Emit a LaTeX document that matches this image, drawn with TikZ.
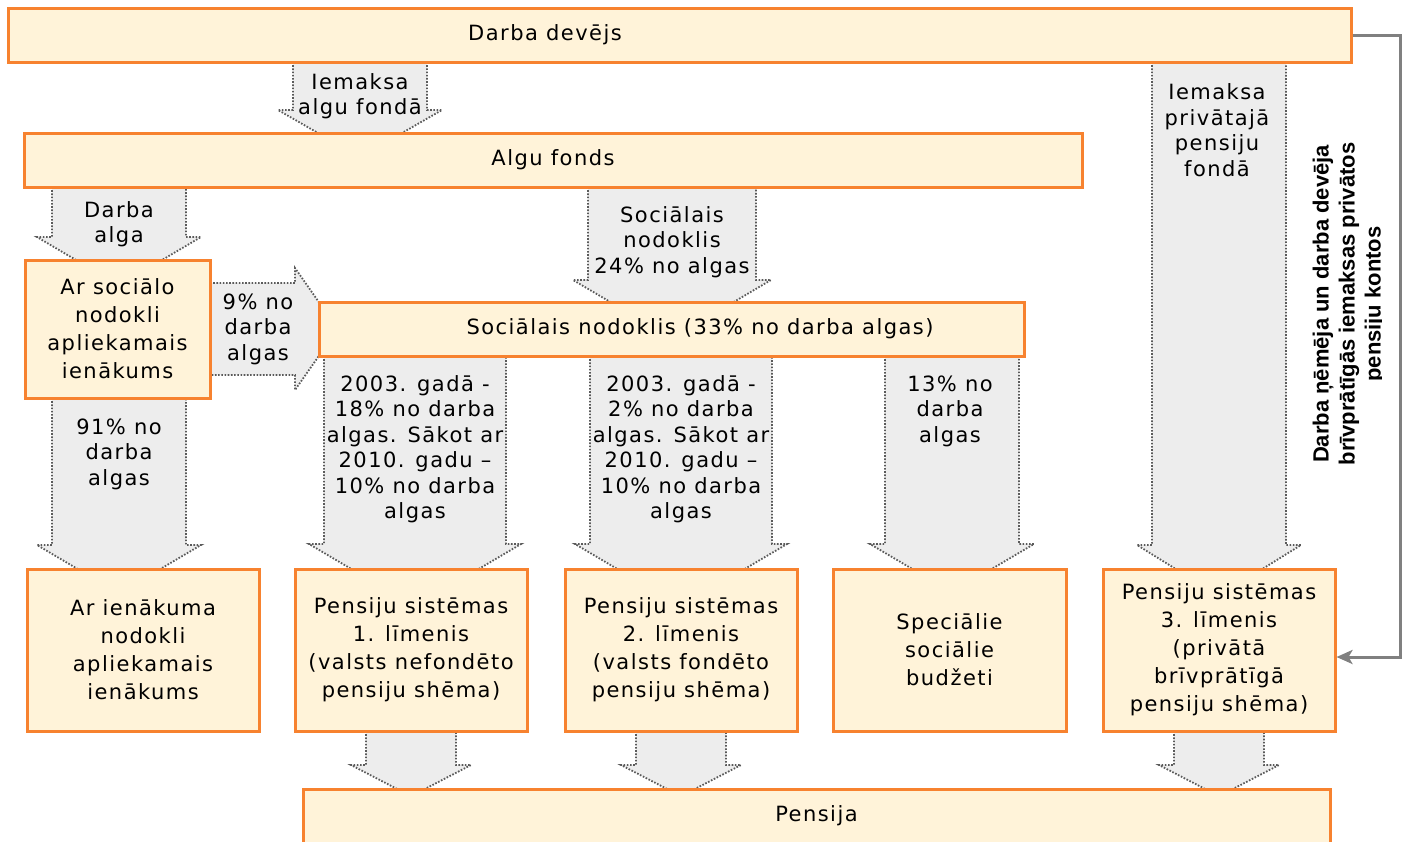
\documentclass[tikz,border=0pt]{standalone}
\usepackage{fontspec}
\usetikzlibrary{arrows.meta}
\newfontfamily\dfont[LetterSpace=7]{DejaVu Sans}
\newfontfamily\vfont{Liberation Sans}
\definecolor{boxfill}{HTML}{FFF3D9}
\definecolor{boxline}{HTML}{F7822F}
\definecolor{arrfill}{HTML}{EDEDED}
\definecolor{arrline}{HTML}{5A5A5A}
\definecolor{connc}{HTML}{808080}
\tikzset{
  box/.style={draw=boxline, line width=1.5pt, fill=boxfill, inner sep=0pt, align=center,
    font=\dfont\fontsize{10.5}{14}\selectfont},
  atext/.style={align=center, inner sep=0pt, font=\dfont\fontsize{10.5}{12.75}\selectfont},
  arrdraw/.style={draw=arrline, line width=0.9pt, dash pattern=on 0.8pt off 0.8pt},
  vtext/.style={align=center, inner sep=0pt, font=\vfont\bfseries\fontsize{11}{13}\selectfont},
  connline/.style={draw=connc, line width=1.5pt, -{Stealth[length=8pt,width=7pt,inset=2pt]}}
}
% box from corners
\newcommand\bx[6]{%
  \node[box, minimum width={(#4-#2)*0.5pt}, minimum height={(#5-#3)*0.5pt}] (#1) at ({(#2+#4)/2},{(#3+#5)/2}) {#6};}
% downward block arrow: xc, half shaft, ytop, ywing, slope
\newcommand\darr[5]{%
  \pgfmathsetmacro\dAxl{#1-#2}\pgfmathsetmacro\dAxr{#1+#2}%
  \pgfmathsetmacro\dAwl{#1-#2-15}\pgfmathsetmacro\dAwr{#1+#2+15}%
  \pgfmathsetmacro\dAyt{#4+#5*(#2+15)}%
  \fill[arrfill] (\dAxl,#3) -- (\dAxl,#4) -- (\dAwl,#4) -- (#1,\dAyt) -- (\dAwr,#4) -- (\dAxr,#4) -- (\dAxr,#3) -- cycle;
  \draw[arrdraw] (\dAxl,#3) -- (\dAxl,#4) -- (\dAwl,#4) -- (#1,\dAyt) -- (\dAwr,#4) -- (\dAxr,#4) -- (\dAxr,#3);}
% rightward block arrow: yc, half shaft, xleft, xwing, slope
\newcommand\rarr[5]{%
  \pgfmathsetmacro\rAyt{#1-#2}\pgfmathsetmacro\rAyb{#1+#2}%
  \pgfmathsetmacro\rAwt{#1-#2-15}\pgfmathsetmacro\rAwb{#1+#2+15}%
  \pgfmathsetmacro\rAxt{#4+#5*(#2+15)}%
  \fill[arrfill] (#3,\rAyt) -- (#4,\rAyt) -- (#4,\rAwt) -- (\rAxt,#1) -- (#4,\rAwb) -- (#4,\rAyb) -- (#3,\rAyb) -- cycle;
  \draw[arrdraw] (#3,\rAyt) -- (#4,\rAyt) -- (#4,\rAwt) -- (\rAxt,#1) -- (#4,\rAwb) -- (#4,\rAyb) -- (#3,\rAyb);}
\begin{document}
\begin{tikzpicture}[x=0.5pt,y=-0.5pt]
\useasboundingbox (0,0) rectangle (1407,841);
% block arrows (drawn first, heads hidden under boxes)
\darr{360}{67}{62}{110}{0.575}
\darr{119}{67}{187}{237}{0.59}
\darr{672}{84}{187}{280}{0.59}
\rarr{329}{46}{210}{295}{0.7}
\darr{119}{67}{398}{545}{0.59}
\darr{415}{91}{356}{544}{0.59}
\darr{681}{91}{356}{544}{0.59}
\darr{952}{67}{356}{544}{0.59}
\darr{1219}{67}{62}{545}{0.62}
\darr{411}{45}{731}{765}{0.52}
\darr{681}{45}{731}{765}{0.52}
\darr{1219}{45}{731}{765}{0.52}
% boxes
\bx{dd}{8}{8}{1351}{62}{\hspace*{-134.5pt}Darba devējs}
\bx{af}{24}{133}{1082}{187}{Algu fonds}
\bx{asn}{25}{260}{210}{398}{Ar sociālo\\nodokli\\apliekamais\\ienākums}
\bx{sn}{319}{302}{1024}{356}{\hspace*{28.5pt}Sociālais nodoklis (33\% no darba algas)}
\bx{ain}{27}{569}{259}{731}{Ar ienākuma\\nodokli\\apliekamais\\ienākums}
\bx{p1}{295}{569}{527}{731}{Pensiju sistēmas\\1. līmenis\\(valsts nefondēto\\pensiju shēma)}
\bx{p2}{565}{569}{797}{731}{Pensiju sistēmas\\2. līmenis\\(valsts fondēto\\pensiju shēma)}
\bx{ssb}{833}{569}{1066}{731}{Speciālie\\sociālie\\budžeti}
\bx{p3}{1103}{569}{1335}{731}{Pensiju sistēmas\\3. līmenis\\(privātā\\brīvprātīgā\\pensiju shēma)}
\bx{pen}{303}{789}{1330}{843}{Pensija}
% arrow labels
\node[atext] (t1) at (360,96) {Iemaksa\\algu fondā};
\node[atext] (t2) at (119,224) {Darba\\alga};
\node[atext] (t3) at (672,242) {Sociālais\\nodoklis\\24\% no algas};
\node[atext] (t4) at (258,329) {9\% no\\darba\\algas};
\node[atext] (t5) at (119,454) {91\% no\\darba\\algas};
\node[atext] (t6) at (415,449) {2003. gadā -\\18\% no darba\\algas. Sākot ar\\2010. gadu –\\10\% no darba\\algas};
\node[atext] (t7) at (681,449) {2003. gadā -\\2\% no darba\\algas. Sākot ar\\2010. gadu –\\10\% no darba\\algas};
\node[atext] (t8) at (950,411) {13\% no\\darba\\algas};
\node[atext] (t9) at (1217,130) {Iemaksa\\privātajā\\pensiju\\fondā};
% side connector
\coordinate (c1) at (1400,657);
\draw[connline] (dd.east) -| (c1) -- (c1 -| p3.east);
\begin{scope}
\clip (1290,100) rectangle (1381,520);
\node[vtext, rotate=90] (vt) at (1349,304) {Darba ņēmēja un darba devēja\\brīvprātīgās iemaksas privātos\\pensiju kontos};
\end{scope}
\end{tikzpicture}
\end{document}
